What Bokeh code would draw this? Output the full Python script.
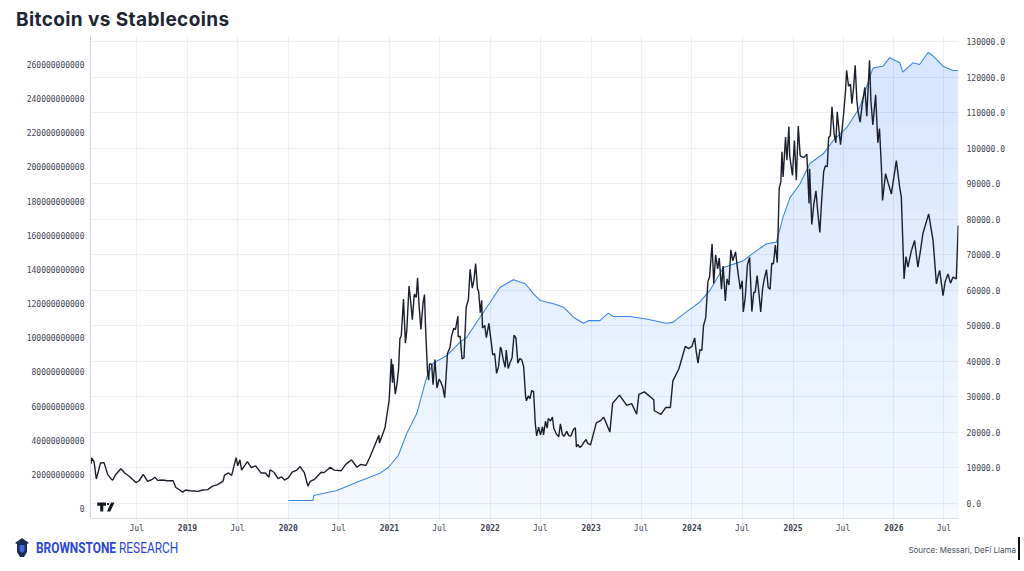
import numpy as np
import pandas as pd
from bokeh.plotting import figure
from bokeh.layouts import column
from bokeh.models import (Range1d, LinearAxis, DatetimeAxis, SingleIntervalTicker, FixedTicker,
                          NumeralTickFormatter, DatetimeTickFormatter, PolyAnnotation, Grid, Div)
from bokeh.embed import file_html
from bokeh.resources import INLINE

# ---------------- data ----------------
btc_dates = [
    "2018-01-15", "2018-01-17", "2018-01-20", "2018-01-28", "2018-02-05", "2018-02-12", "2018-02-20",
    "2018-03-05", "2018-03-18", "2018-04-01", "2018-04-06", "2018-04-15", "2018-05-05", "2018-05-20",
    "2018-06-05", "2018-06-28", "2018-07-10", "2018-07-25", "2018-08-10", "2018-08-25", "2018-09-05",
    "2018-09-15", "2018-10-01", "2018-10-20", "2018-11-10", "2018-11-20", "2018-11-30", "2018-12-15",
    "2018-12-25", "2019-01-10", "2019-01-25", "2019-02-08", "2019-02-25", "2019-03-15", "2019-04-02",
    "2019-04-20", "2019-05-10", "2019-05-15", "2019-05-30", "2019-06-10", "2019-06-26", "2019-07-02",
    "2019-07-10", "2019-07-16", "2019-08-06", "2019-08-20", "2019-09-05", "2019-09-24", "2019-10-10",
    "2019-10-23", "2019-10-27", "2019-11-10", "2019-11-25", "2019-12-08", "2019-12-18", "2020-01-01",
    "2020-01-15", "2020-02-01", "2020-02-13", "2020-02-28", "2020-03-12", "2020-03-20", "2020-04-05",
    "2020-04-29", "2020-05-10", "2020-06-01", "2020-06-15", "2020-07-10", "2020-07-27", "2020-08-17",
    "2020-09-05", "2020-09-20", "2020-10-08", "2020-10-21", "2020-11-05", "2020-11-24", "2020-11-26",
    "2020-12-16", "2020-12-31", "2021-01-08", "2021-01-12", "2021-01-14", "2021-01-22", "2021-01-28",
    "2021-02-03", "2021-02-08", "2021-02-13", "2021-02-21", "2021-02-28", "2021-03-05", "2021-03-13",
    "2021-03-18", "2021-03-25", "2021-04-01", "2021-04-08", "2021-04-13", "2021-04-18", "2021-04-25",
    "2021-05-03", "2021-05-08", "2021-05-12", "2021-05-19", "2021-05-23", "2021-05-26", "2021-06-03",
    "2021-06-08", "2021-06-15", "2021-06-22", "2021-06-30", "2021-07-06", "2021-07-13", "2021-07-20",
    "2021-07-25", "2021-07-30", "2021-08-08", "2021-08-14", "2021-08-22", "2021-08-28", "2021-09-06",
    "2021-09-07", "2021-09-14", "2021-09-21", "2021-09-28", "2021-10-06", "2021-10-14", "2021-10-20",
    "2021-10-28", "2021-11-03", "2021-11-09", "2021-11-16", "2021-11-20", "2021-11-26", "2021-12-01",
    "2021-12-04", "2021-12-12", "2021-12-18", "2021-12-27", "2022-01-03", "2022-01-10", "2022-01-17",
    "2022-01-24", "2022-01-31", "2022-02-07", "2022-02-10", "2022-02-17", "2022-02-24", "2022-02-28",
    "2022-03-07", "2022-03-14", "2022-03-21", "2022-03-28", "2022-04-04", "2022-04-11", "2022-04-18",
    "2022-04-25", "2022-05-02", "2022-05-09", "2022-05-12", "2022-05-19", "2022-05-25", "2022-05-31",
    "2022-06-07", "2022-06-13", "2022-06-18", "2022-06-25", "2022-07-02", "2022-07-09", "2022-07-13",
    "2022-07-20", "2022-07-26", "2022-07-30", "2022-08-07", "2022-08-14", "2022-08-19", "2022-08-28",
    "2022-09-06", "2022-09-12", "2022-09-19", "2022-09-25", "2022-10-05", "2022-10-12", "2022-10-20",
    "2022-10-29", "2022-11-05", "2022-11-09", "2022-11-14", "2022-11-21", "2022-11-28", "2022-12-05",
    "2022-12-14", "2022-12-20", "2022-12-30", "2023-01-20", "2023-02-04", "2023-02-16", "2023-03-10",
    "2023-03-20", "2023-04-14", "2023-05-10", "2023-05-28", "2023-06-15", "2023-06-23", "2023-07-13",
    "2023-08-16", "2023-08-18", "2023-09-11", "2023-09-28", "2023-10-15", "2023-10-24", "2023-11-15",
    "2023-12-08", "2023-12-20", "2024-01-01", "2024-01-11", "2024-01-16", "2024-01-23", "2024-01-30",
    "2024-02-06", "2024-02-12", "2024-02-20", "2024-02-28", "2024-03-05", "2024-03-14", "2024-03-20",
    "2024-03-27", "2024-04-03", "2024-04-09", "2024-04-17", "2024-04-23", "2024-05-01", "2024-05-07",
    "2024-05-14", "2024-05-21", "2024-05-28", "2024-06-07", "2024-06-14", "2024-06-24", "2024-07-01",
    "2024-07-05", "2024-07-12", "2024-07-20", "2024-07-28", "2024-08-05", "2024-08-12", "2024-08-17",
    "2024-08-24", "2024-08-31", "2024-09-06", "2024-09-13", "2024-09-19", "2024-09-27", "2024-10-03",
    "2024-10-10", "2024-10-16", "2024-10-22", "2024-10-29", "2024-11-05", "2024-11-12", "2024-11-18",
    "2024-11-22", "2024-11-26", "2024-12-05", "2024-12-10", "2024-12-17", "2024-12-20", "2024-12-30",
    "2025-01-06", "2025-01-13", "2025-01-20", "2025-01-27", "2025-02-03", "2025-02-10", "2025-02-20",
    "2025-02-28", "2025-03-02", "2025-03-10", "2025-03-17", "2025-03-25", "2025-03-31", "2025-04-08",
    "2025-04-14", "2025-04-22", "2025-04-28", "2025-05-05", "2025-05-10", "2025-05-16", "2025-05-22",
    "2025-05-30", "2025-06-05", "2025-06-10", "2025-06-17", "2025-06-22", "2025-06-30", "2025-07-03",
    "2025-07-10", "2025-07-14", "2025-07-21", "2025-07-28", "2025-08-02", "2025-08-08", "2025-08-14",
    "2025-08-20", "2025-08-25", "2025-09-01", "2025-09-08", "2025-09-18", "2025-09-25", "2025-10-01",
    "2025-10-05", "2025-10-10", "2025-10-17", "2025-10-27", "2025-11-04", "2025-11-10", "2025-11-17",
    "2025-11-21", "2025-12-02", "2025-12-12", "2025-12-23", "2026-01-10", "2026-01-22", "2026-01-28",
    "2026-02-04", "2026-02-07", "2026-02-14", "2026-02-21", "2026-03-05", "2026-03-17", "2026-03-29",
    "2026-04-08", "2026-04-16", "2026-05-07", "2026-05-23", "2026-06-04", "2026-06-10", "2026-06-16",
    "2026-06-28", "2026-07-06", "2026-07-16", "2026-07-25", "2026-08-03", "2026-08-15", "2026-08-22",
]
btc_prices = [
    13000, 11200, 12800, 11700, 6900, 8900, 11400,
    11500, 8200, 6800, 6600, 8000, 9800, 8500,
    7600, 5900, 6400, 8200, 6200, 6700, 7400,
    6500, 6600, 6400, 6400, 4500, 4000, 3200,
    3800, 3600, 3500, 3400, 3800, 3900, 4900,
    5300, 6300, 8000, 8600, 7900, 12900, 10600,
    12300, 9400, 11800, 10100, 10600, 8600, 8600,
    7400, 9500, 8800, 7000, 7500, 6600, 7200,
    8800, 9400, 10400, 8700, 4900, 6200, 6800,
    8800, 8700, 10200, 9400, 9200, 11000, 12300,
    10200, 11000, 10700, 12800, 15600, 19200, 17000,
    21300, 29000, 40700, 34000, 39200, 30800, 33400,
    37600, 46400, 47200, 57500, 45100, 48800, 61200,
    57600, 51700, 58900, 58000, 63500, 56200, 49000,
    56600, 58800, 49200, 37000, 34700, 39300, 39200,
    33400, 40500, 32500, 35000, 34200, 32800, 29800,
    35400, 42200, 43800, 47100, 49300, 48900, 52700,
    46900, 47100, 40700, 41000, 55300, 57400, 65900,
    60600, 62900, 67500, 60400, 59700, 53700, 57200,
    49400, 50100, 46700, 50700, 46400, 41800, 42200,
    36600, 38500, 44000, 43600, 40500, 38300, 43200,
    38000, 39700, 41000, 47400, 46600, 39500, 40800,
    40400, 38500, 30100, 28900, 30300, 29500, 31800,
    31400, 22500, 19000, 21500, 19300, 21600, 19300,
    23200, 21200, 23900, 23200, 24300, 21200, 19600,
    18800, 22400, 19500, 18900, 20300, 19100, 19000,
    20800, 21300, 15900, 16600, 15800, 16200, 17100,
    18000, 16900, 16500, 22700, 23300, 24300, 20100,
    28200, 30500, 27600, 28100, 25100, 30700, 31400,
    29200, 26100, 25100, 27000, 27000, 34500, 37900,
    44200, 43600, 44200, 46600, 43100, 39500, 43300,
    43100, 50000, 52300, 62500, 63800, 73100, 61900,
    70000, 66000, 69100, 60300, 66800, 57000, 63200,
    61500, 71400, 68300, 70800, 66000, 60300, 62700,
    53900, 57900, 67200, 69200, 54000, 59400, 59500,
    64100, 58900, 53900, 60500, 63200, 65800, 60800,
    60300, 67600, 67400, 72700, 67800, 88700, 90500,
    99000, 91900, 103100, 96600, 106100, 97800, 92300,
    102100, 91000, 106200, 97800, 97500, 97400, 98300,
    84400, 94200, 78500, 84000, 88000, 82500, 76300,
    84500, 93400, 95000, 94800, 103000, 103500, 111600,
    103900, 101500, 110200, 104500, 101000, 107100, 109600,
    116000, 121900, 117400, 118000, 112500, 116700, 123300,
    113500, 110100, 107300, 112100, 117100, 109000, 118600,
    124700, 113200, 106500, 115000, 101500, 105500, 94600,
    85300, 92800, 90000, 87100, 96500, 89000, 86200,
    70300, 63200, 69500, 66500, 71000, 74000, 66500,
    71500, 75900, 81500, 74000, 61800, 64000, 65600,
    58500, 62500, 64600, 62000, 63700, 63200, 78200,
]

stable_dates = [
    "2020-01-01", "2020-03-30", "2020-04-02", "2020-06-25", "2020-09-05", "2020-11-28", "2020-12-28",
    "2021-02-02", "2021-03-05", "2021-04-10", "2021-05-16", "2021-06-08", "2021-07-28", "2021-09-14",
    "2021-10-08", "2021-11-25", "2022-01-01", "2022-02-06", "2022-03-26", "2022-05-08", "2022-06-07",
    "2022-07-01", "2022-08-18", "2022-09-23", "2022-10-29", "2022-12-04", "2022-12-22", "2023-02-02",
    "2023-03-04", "2023-03-22", "2023-05-21", "2023-07-20", "2023-09-30", "2023-10-24", "2023-12-11",
    "2024-01-29", "2024-03-06", "2024-04-23", "2024-07-04", "2024-08-22", "2024-09-27", "2024-11-02",
    "2024-11-26", "2024-12-21", "2025-01-26", "2025-03-03", "2025-04-20", "2025-05-27", "2025-07-14",
    "2025-08-31", "2025-10-06", "2025-10-18", "2025-11-23", "2025-12-17", "2026-01-22", "2026-02-03",
    "2026-03-11", "2026-04-04", "2026-05-05", "2026-05-23", "2026-06-28", "2026-08-03", "2026-08-22",
]
stable_bn = [
    4.7, 4.7, 7.6, 10.5, 15.4, 20.7, 24.0,
    31.0, 44.0, 55.6, 76.9, 85.0, 89.6, 97.4,
    100.3, 112.0, 120.8, 129.6, 134.0, 131.6, 125.7,
    121.8, 119.9, 117.9, 112.0, 108.5, 110.0, 110.0,
    114.4, 112.4, 112.4, 111.0, 108.5, 109.0, 115.0,
    120.8, 127.7, 141.0, 145.0, 151.0, 155.0, 156.0,
    170.6, 182.0, 190.0, 202.0, 207.7, 215.5, 223.0,
    235.0, 252.6, 258.0, 259.0, 264.0, 261.0, 255.5,
    261.0, 260.0, 267.0, 265.0, 259.0, 256.5, 256.5,
]

x_tick_dates = ["2018-07-01", "2019-01-01", "2019-07-01", "2020-01-01", "2020-07-01", "2021-01-01",
                "2021-07-01", "2022-01-01", "2022-07-01", "2023-01-01", "2023-07-01", "2024-01-01",
                "2024-07-01", "2025-01-01", "2025-07-01", "2026-01-01", "2026-07-01"]
x_tick_labels = ["Jul", "2019", "Jul", "2020", "Jul", "2021", "Jul", "2022", "Jul", "2023", "Jul",
                 "2024", "Jul", "2025", "Jul", "2026", "Jul"]

title_text = "Bitcoin vs Stablecoins"
brand_bold = "BROWNSTONE"
brand_light = "RESEARCH"
source_text = "Source: Messari, DeFi Llama"

# ---------------- figure ----------------
MONO = "DejaVu Sans Mono"
LABEL_COLOR = "#3d4452"
W = 1022


def ms(d):
    return pd.Timestamp(d).value / 1e6


# visible plot: right scale 0 -> page y 503, 130000 -> 41 ; left scale 0 -> 508, 260e9 -> 64
BTC_TOP, BTC_BOT, BTC_VIS = 131688, -9286, -4221
ST_TOP, ST_BOT, ST_VIS = 276.98e9, -16.40e9, -5.856e9

p = figure(width=W, height=505, x_axis_type="datetime", x_axis_location=None,
           y_axis_location="right",
           x_range=Range1d(ms("2018-01-15"), ms("2026-08-23")),
           y_range=Range1d(BTC_BOT, BTC_TOP),
           output_backend="svg", toolbar_location=None, title=None,
           min_border_left=90, min_border_right=W - 958, min_border_top=3, min_border_bottom=1)
p.background_fill_color = "white"
p.border_fill_color = "white"
p.outline_line_color = None
p.extra_y_ranges = {"stable": Range1d(ST_BOT, ST_TOP)}

sd = pd.to_datetime(stable_dates)
s = np.array(stable_bn) * 1e9
bd = pd.to_datetime(btc_dates)

# gridlines
all_ticks = [ms(d) for d in x_tick_dates]
p.add_layout(Grid(dimension=0, ticker=FixedTicker(ticks=all_ticks), grid_line_color="#eef0f4",
                  bounds=(BTC_VIS, BTC_TOP)))

# gradient area under the stablecoin line (stacked translucent layers)
FILL = "#2176e4"
p.varea(x=sd, y1=ST_VIS, y2=s, fill_color=FILL, fill_alpha=0.04, y_range_name="stable")
for t in np.arange(0, 230e9, 25e9):
    p.varea(x=sd, y1=np.minimum(s, t), y2=s, fill_color=FILL, fill_alpha=0.01,
            y_range_name="stable")

p.line(sd, s, line_color="#3b86ea", line_width=1.1, y_range_name="stable")
p.line(bd, btc_prices, line_color="#1b1f2b", line_width=1.4)

# y axes
right = p.yaxis[0]
right.ticker = SingleIntervalTicker(interval=10000, num_minor_ticks=0)
right.formatter = NumeralTickFormatter(format="0.0")
right.major_label_standoff = 8
left = LinearAxis(y_range_name="stable",
                  ticker=SingleIntervalTicker(interval=20e9, num_minor_ticks=0),
                  formatter=NumeralTickFormatter(format="0"), bounds=(ST_VIS, ST_TOP))
left.major_label_standoff = 6
p.add_layout(left, "left")
p.ygrid.ticker = right.ticker
p.ygrid.grid_line_color = "#eef0f4"

for ax in (right, left):
    ax.major_tick_line_color = None
    ax.minor_tick_line_color = None
    ax.major_tick_out = 0
    ax.major_tick_in = 0
    ax.major_label_text_font = MONO
    ax.major_label_text_font_size = "8px"
    ax.major_label_text_color = LABEL_COLOR
right.axis_line_color = None
left.axis_line_color = "#cfd4dc"

# x axes at the bottom of the visible plot: months normal, years bold
jul_ticks = [ms(d) for d, l in zip(x_tick_dates, x_tick_labels) if not l.isdigit()]
year_ticks = [ms(d) for d, l in zip(x_tick_dates, x_tick_labels) if l.isdigit()]
fmt_mon = DatetimeTickFormatter(years="%b", months="%b", days="%b", hours="%b")
fmt_year = DatetimeTickFormatter(years="%Y", months="%Y", days="%Y", hours="%Y")
for ticks, fmt, style, line in ((jul_ticks, fmt_mon, "normal", "#dde1e7"),
                                (year_ticks, fmt_year, "bold", None)):
    ax = DatetimeAxis(fixed_location=BTC_VIS, ticker=FixedTicker(ticks=ticks), formatter=fmt)
    ax.axis_line_color = line
    ax.major_tick_line_color = None
    ax.minor_tick_line_color = None
    ax.major_tick_out = 0
    ax.major_tick_in = 0
    ax.major_label_standoff = 6
    ax.major_label_text_font = MONO
    ax.major_label_text_font_size = "8px"
    ax.major_label_text_font_style = style
    ax.major_label_text_color = LABEL_COLOR
    p.add_layout(ax, "below")


# TradingView mark (frame-relative screen units: page X -> X-90, page Y -> 536-Y)
def P(pts, color):
    xs = [x - 90 for x, y in pts]
    ys = [536 - y for x, y in pts]
    p.add_layout(PolyAnnotation(xs=xs, ys=ys, xs_units="screen", ys_units="screen",
                                fill_color=color, fill_alpha=1, line_color=None))


P([(96.7, 502), (105.5, 502), (105.5, 505.3), (102.8, 505.3), (102.8, 511), (99.7, 511),
   (99.7, 505.3), (96.7, 505.3)], "#131722")
P([(106.6, 502.4), (108.6, 502.4), (108.6, 504.6), (106.6, 504.6)], "#131722")
P([(110.6, 502), (114, 502), (109.8, 511), (106.4, 511)], "#131722")

title = Div(text=('<div style="font-family:Inter;font-size:19px;font-weight:700;color:#1e2633;'
                  'letter-spacing:0.4px;line-height:19px;padding:10px 0 0 16px;white-space:nowrap;">'
                  f'{title_text}</div>'), width=W, height=32, margin=(0, 0, 0, 0))

lantern = ('<svg width="16" height="20" viewBox="0 0 16 20" style="position:absolute;left:14px;top:1px;">'
           '<polygon points="8,0 15,5 13,6 13,14 10,19 6,19 3,14 3,6 1,5" fill="#1c2b4f"/>'
           '<polygon points="5.5,7 10.5,7 10.5,13 8,15 5.5,13" fill="#3e63dd"/></svg>')
footer = Div(text=(
    '<div style="position:relative;width:1022px;height:32px;">' + lantern +
    '<span style="position:absolute;left:36px;top:4px;font-family:Roboto;font-size:14px;'
    'line-height:14px;color:#2a46d6;white-space:nowrap;display:inline-block;'
    'transform:scaleX(0.85);transform-origin:left top;">'
    f'<b>{brand_bold}</b> {brand_light}</span>'
    '<span style="position:absolute;right:6px;top:9px;font-family:Inter;font-size:8px;'
    f'line-height:8px;color:#454c59;white-space:nowrap;">{source_text}</span>'
    '<div style="position:absolute;left:1018px;top:0px;width:2px;height:23px;background:#111;"></div>'
    '</div>'), width=W, height=32, margin=(0, 0, 0, 0))

layout = column(title, p, footer, spacing=0)
open("out.html", "w").write(file_html(layout, INLINE))
